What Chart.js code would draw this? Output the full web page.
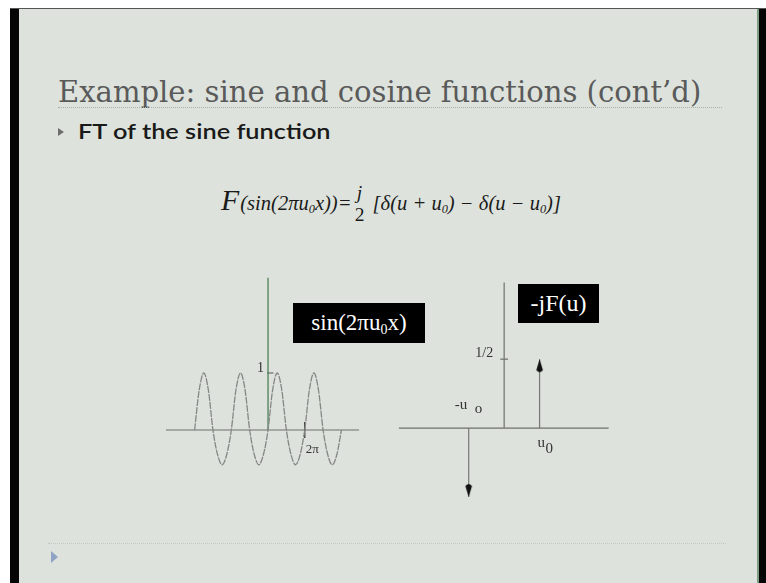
<!DOCTYPE html>
<html>
<head>
<meta charset="utf-8">
<script src="https://cdn.jsdelivr.net/npm/chart.js@4.4.1/dist/chart.umd.min.js"></script>
<style>
  body { margin: 0; width: 766px; height: 583px; background: #fff; position: relative; overflow: hidden; }
  .abs { position: absolute; }
  #slide { left: 19px; top: 9px; width: 738px; height: 574px; background: #dde3dc; }
  #barL { left: 10px; top: 8px; width: 9px; height: 575px; background: #050505; }
  #barR { left: 759px; top: 8px; width: 7px; height: 575px; background: #050505; }
  #edgeR { left: 757px; top: 8px; width: 2px; height: 575px; background: #7d9c84; }
  #topLine { left: 10px; top: 8px; width: 756px; height: 1px; background: #555; }
  #title { left: 58px; top: 77px; font: 30px "DejaVu Serif", serif; color: #5a5a5a; white-space: nowrap; transform-origin: 0 0; line-height: 1; }
  .dots { height: 0; border-top: 1px dotted #aab0a9; }
  #bullet { left: 78px; top: 120px; font: 600 21px Lato, sans-serif; color: #1a1a1a; white-space: nowrap; transform-origin: 0 0; line-height: 1; }
  .tri { width: 0; height: 0; border-top: 4.5px solid transparent; border-bottom: 4.5px solid transparent; }
  #formula { left: 221px; top: 182px; font: italic 20px "Liberation Serif", serif; color: #1a1a1a; white-space: nowrap; transform-origin: 0 0; line-height: 1; }
  #formula .big { font-size: 29px; margin-right: 1px; }
  #formula sub { font-size: 12px; vertical-align: -3px; }
  .frac { display: inline-block; vertical-align: -11px; text-align: center; font-size: 19px; margin: 0 3px; line-height: 1.15; }
  .frac span { display: block; }
  .box { background: #000; color: #fff; font: 23px "Liberation Serif", serif; text-align: center; white-space: nowrap; }
  .box sub { font-size: 14px; vertical-align: -4px; }
  canvas { position: absolute; }
</style>
</head>
<body>
<div id="slide" class="abs"></div>
<div id="barL" class="abs"></div>
<div id="edgeR" class="abs"></div>
<div id="barR" class="abs"></div>
<div id="topLine" class="abs"></div>

<div id="title" class="abs">Example: sine and cosine functions (cont’d)</div>
<div class="abs dots" style="left:58px; top:107px; width:664px;"></div>
<div class="abs tri" style="left:58px; top:128px; border-left:6px solid #6d6d6d;"></div>
<div id="bullet" class="abs">FT of the sine function</div>

<div id="formula" class="abs"><span class="big">F</span>(sin(2πu<sub>0</sub>x))=<span class="frac"><span>j</span><span style="font-style:normal;">2</span></span> [δ(u + u<sub>0</sub>) − δ(u − u<sub>0</sub>)]</div>

<canvas id="sineChart" width="230" height="240" style="left:150px; top:260px;"></canvas>
<canvas id="spectrumChart" width="245" height="250" style="left:385px; top:260px;"></canvas>

<div class="abs box" style="left:293px; top:303px; width:132px; height:40px; line-height:40px;">sin(2πu<sub>0</sub>x)</div>
<div class="abs box" style="left:518px; top:284px; width:81px; height:39px; line-height:38px; font-size:24px;">-jF(u)</div>

<div class="abs dots" style="left:48px; top:543px; width:678px; border-top-color:#c3c9c2;"></div>
<div class="abs tri" style="left:51px; top:551px; border-top-width:6px; border-bottom-width:6px; border-left:7px solid #8fa3c4;"></div>

<script>
// sine wave, x in multiples of pi, sampled every eighth of a period
const sineX = [-4, -3.75, -3.5, -3.25, -3, -2.75, -2.5, -2.25, -2, -1.75, -1.5, -1.25, -1, -0.75, -0.5, -0.25,
               0, 0.25, 0.5, 0.75, 1, 1.25, 1.5, 1.75, 2, 2.25, 2.5, 2.75, 3, 3.25, 3.5, 3.75, 4];
const sineY = [0, 0.7, 1, 0.7, 0, -0.43, -0.61, -0.43, 0, 0.7, 1, 0.7, 0, -0.43, -0.61, -0.43,
               0, 0.7, 1, 0.7, 0, -0.43, -0.61, -0.43, 0, 0.7, 1, 0.7, 0, -0.43, -0.61, -0.43, 0];
const sineTickText = ['1', '2π'];

// impulses of -jF(u), position in units of u0
const deltaU = [-1, 1];
const deltaAmp = [-0.5, 0.5];
const spectrumTickText = ['1/2', '-u', 'o', 'u', '0'];

Chart.defaults.font.family = '"Liberation Serif", serif';

const ctx = document.querySelector('#sineChart');
const ctx2 = document.querySelector('#spectrumChart');

const baseOptions = (xmin, xmax, ymin, ymax) => ({
    responsive: false,
    animation: false,
    devicePixelRatio: 1,
    events: [],
    layout: { padding: 0 },
    plugins: { legend: { display: false }, tooltip: { enabled: false } },
    scales: {
        x: { type: 'linear', min: xmin, max: xmax, display: false },
        y: { type: 'linear', min: ymin, max: ymax, display: false }
    }
});

const seg = (x0, y0, x1, y1) => [{ x: x0, y: y0 }, { x: x1, y: y1 }];
const lineSet = (data, color, width) => ({
    data: data, borderColor: color, borderWidth: width, pointRadius: 0, showLine: true, fill: false
});

// arrow head with its tip at the centre of the image
const arrowHead = document.createElement('canvas');
arrowHead.width = 9;
arrowHead.height = 30;
const ah = arrowHead.getContext('2d');
ah.fillStyle = '#111';
ah.beginPath();
ah.moveTo(4.5, 15);
ah.lineTo(7.8, 26);
ah.quadraticCurveTo(4.5, 30, 1.2, 26);
ah.closePath();
ah.fill();

const sineLabels = {
    id: 'sineLabels',
    afterDraw(chart) {
        const { ctx: c, scales: { x, y } } = chart;
        c.save();
        c.fillStyle = '#333';
        c.font = '14px "Liberation Serif", serif';
        c.textAlign = 'right';
        c.textBaseline = 'alphabetic';
        c.fillText(sineTickText[0], x.getPixelForValue(0) - 4, y.getPixelForValue(1) - 1);
        c.textAlign = 'left';
        c.font = '13px "Liberation Serif", serif';
        c.fillText(sineTickText[1], x.getPixelForValue(2) + 1, y.getPixelForValue(0) + 23);
        c.restore();
    }
};

const myChart = new Chart(ctx, {
    type: 'scatter',
    data: {
        datasets: [
            {
                data: sineX.map((v, i) => ({ x: v, y: sineY[i] })),
                borderColor: '#858785',
                borderWidth: 1.3,
                borderDash: [7, 1],
                pointRadius: 0,
                showLine: true,
                cubicInterpolationMode: 'monotone'
            },
            lineSet(seg(-5.56, 0, 4.96, 0), '#6e706d', 1.2),
            lineSet(seg(0, 0, 0, 2.67), '#4e7f5a', 1.3),
            lineSet(seg(-0.05, 1, 0.3, 1), '#555', 1),
            lineSet(seg(2, 0.14, 2, -0.14), '#333', 1.3)
        ]
    },
    options: baseOptions(-6.43, 6.10, -1.228, 2.982),
    plugins: [sineLabels]
});

const spectrumLabels = {
    id: 'spectrumLabels',
    afterDraw(chart) {
        const { ctx: c, scales: { x, y } } = chart;
        c.save();
        c.fillStyle = '#333';
        c.textBaseline = 'alphabetic';
        c.font = '14px "Liberation Serif", serif';
        c.textAlign = 'right';
        c.fillText(spectrumTickText[0], x.getPixelForValue(0) - 11, y.getPixelForValue(0.5) - 2);
        c.textAlign = 'left';
        c.font = '15px "Liberation Serif", serif';
        c.fillText(spectrumTickText[1], x.getPixelForValue(-1) - 14, y.getPixelForValue(0) - 19);
        c.fillText(spectrumTickText[2], x.getPixelForValue(-1) + 6, y.getPixelForValue(0) - 15);
        c.fillText(spectrumTickText[3], x.getPixelForValue(1) - 2, y.getPixelForValue(0) + 19);
        c.fillText(spectrumTickText[4], x.getPixelForValue(1) + 6, y.getPixelForValue(0) + 25);
        c.restore();
    }
};

const myChart2 = new Chart(ctx2, {
    type: 'scatter',
    data: {
        datasets: [
            lineSet(seg(-2.97, 0, 2.95, 0), '#6e706d', 1.2),
            lineSet(seg(0, 0, 0, 1.056), '#6e706d', 1.2),
            lineSet(seg(-0.11, 0.5, 0.11, 0.5), '#555', 1),
            ...deltaU.map((u, i) => ({
                data: seg(u, 0, u, deltaAmp[i]),
                borderColor: '#777',
                borderWidth: 1.2,
                showLine: true,
                pointRadius: [0, 4],
                pointStyle: arrowHead,
                rotation: deltaAmp[i] < 0 ? 180 : 0
            }))
        ]
    },
    options: baseOptions(-3.216, 3.405, -0.556, 1.181),
    plugins: [spectrumLabels]
});

// stretch text lines to their measured widths
const fit = (id, w) => {
    const el = document.getElementById(id);
    el.style.transform = 'scaleX(' + (w / el.offsetWidth) + ')';
};
fit('title', 643);
fit('bullet', 252);
fit('formula', 340);
</script>
</body>
</html>
